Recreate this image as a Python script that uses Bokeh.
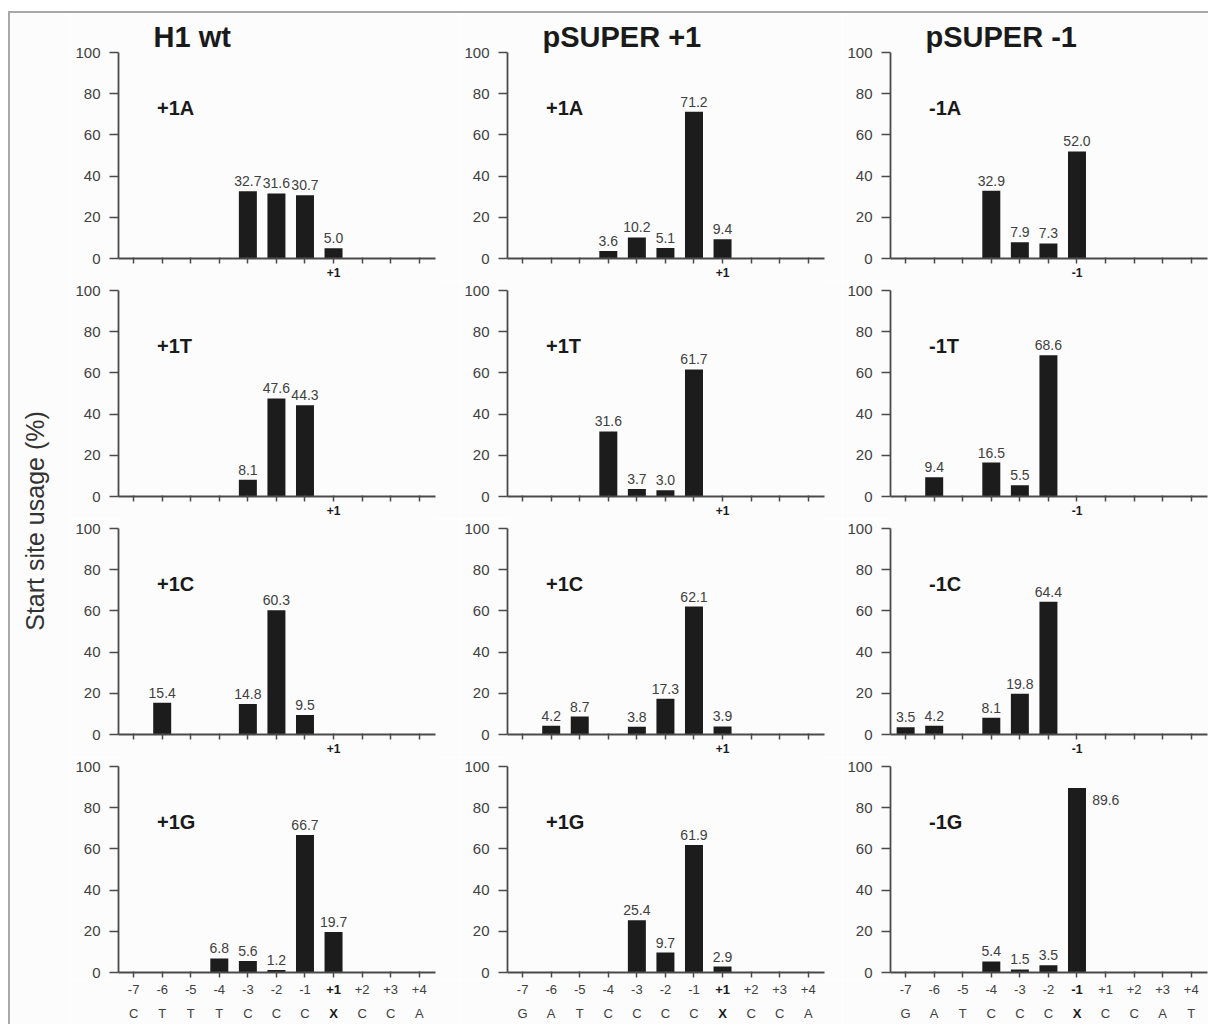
from bokeh.plotting import figure
from bokeh.layouts import row, column
from bokeh.models import (Range1d, FixedTicker, Label, LabelSet, ColumnDataSource)
from bokeh.core.properties import value
from bokeh.embed import file_html
from bokeh.resources import INLINE

# ---------------- data ----------------
positions = ["-7", "-6", "-5", "-4", "-3", "-2", "-1", "+1", "+2", "+3", "+4"]
seq_h1 = ["C", "T", "T", "T", "C", "C", "C", "X", "C", "C", "A"]
seq_plus = ["G", "A", "T", "C", "C", "C", "C", "X", "C", "C", "A"]
seq_minus = ["G", "A", "T", "C", "C", "C", "X", "C", "C", "A", "T"]

col_titles = ["H1 wt", "pSUPER +1", "pSUPER -1"]
start_sites = ["+1", "+1", "-1"]
names_plus = ["+1A", "+1T", "+1C", "+1G"]
names_minus = ["-1A", "-1T", "-1C", "-1G"]

h1_A_pos = ["-3", "-2", "-1", "+1"]
h1_A_val = [32.7, 31.6, 30.7, 5.0]
h1_T_pos = ["-3", "-2", "-1"]
h1_T_val = [8.1, 47.6, 44.3]
h1_C_pos = ["-6", "-3", "-2", "-1"]
h1_C_val = [15.4, 14.8, 60.3, 9.5]
h1_G_pos = ["-4", "-3", "-2", "-1", "+1"]
h1_G_val = [6.8, 5.6, 1.2, 66.7, 19.7]

p1_A_pos = ["-4", "-3", "-2", "-1", "+1"]
p1_A_val = [3.6, 10.2, 5.1, 71.2, 9.4]
p1_T_pos = ["-4", "-3", "-2", "-1"]
p1_T_val = [31.6, 3.7, 3.0, 61.7]
p1_C_pos = ["-6", "-5", "-3", "-2", "-1", "+1"]
p1_C_val = [4.2, 8.7, 3.8, 17.3, 62.1, 3.9]
p1_G_pos = ["-3", "-2", "-1", "+1"]
p1_G_val = [25.4, 9.7, 61.9, 2.9]

m1_A_pos = ["-4", "-3", "-2", "-1"]
m1_A_val = [32.9, 7.9, 7.3, 52.0]
m1_T_pos = ["-6", "-4", "-3", "-2"]
m1_T_val = [9.4, 16.5, 5.5, 68.6]
m1_C_pos = ["-7", "-6", "-4", "-3", "-2"]
m1_C_val = [3.5, 4.2, 8.1, 19.8, 64.4]
m1_G_pos = ["-4", "-3", "-2", "-1"]
m1_G_val = [5.4, 1.5, 3.5, 89.6]

panels = [
    [(h1_A_pos, h1_A_val), (p1_A_pos, p1_A_val), (m1_A_pos, m1_A_val)],
    [(h1_T_pos, h1_T_val), (p1_T_pos, p1_T_val), (m1_T_pos, m1_T_val)],
    [(h1_C_pos, h1_C_val), (p1_C_pos, p1_C_val), (m1_C_pos, m1_C_val)],
    [(h1_G_pos, h1_G_val), (p1_G_pos, p1_G_val), (m1_G_pos, m1_G_val)],
]
sequences = [seq_h1, seq_plus, seq_minus]

# ---------------- style / layout ----------------
FONT = "Liberation Sans"
BG = "#fcfcfc"
AXIS_COLOR = "#4a4a4a"
TEXT_COLOR = "#404040"
DARK = "#1a1a1a"
BAR_COLOR = "#1c1c1c"

FRAME_W = 317
SPAN = 206          # pixels for 0..100
PAD = 9             # pixels above 100 inside frame (rows 2-4)
LEFT_B = [48, 48, 48]
RIGHT_B = [24, 18, 1]
TOP_B = [39, 0, 0, 0]
BOTTOM_B = [23, 23, 23, 8]
STRIP_H = 44
X_RANGE = (-0.53, 10.57)


def make_panel(r, c):
    pos, vals = panels[r][c]
    pad = 0 if r == 0 else PAD
    frame_h = SPAN + pad
    kw = {"title": col_titles[c]} if r == 0 else {}
    p = figure(width=LEFT_B[c] + FRAME_W + RIGHT_B[c],
               height=TOP_B[r] + frame_h + BOTTOM_B[r],
               x_range=Range1d(*X_RANGE),
               y_range=Range1d(0, 100 + 100.0 * pad / SPAN),
               output_backend="svg", toolbar_location=None,
               min_border_left=LEFT_B[c], min_border_right=RIGHT_B[c],
               min_border_top=TOP_B[r], min_border_bottom=BOTTOM_B[r], **kw)
    p.background_fill_color = BG
    p.border_fill_color = BG
    p.outline_line_color = None
    p.xgrid.visible = False
    p.ygrid.visible = False
    if r == 0:
        p.title.align = "left"
        p.title.offset = 35
        p.title.standoff = 0
        p.title.text_font = FONT
        p.title.text_font_size = "29px"
        p.title.text_font_style = "bold"
        p.title.text_color = DARK

    # y axis
    ya = p.yaxis[0]
    ya.ticker = FixedTicker(ticks=[0, 20, 40, 60, 80, 100])
    ya.bounds = (0, 100)
    ya.minor_tick_line_color = None
    ya.major_tick_out = 9
    ya.major_tick_in = 0
    ya.axis_line_color = AXIS_COLOR
    ya.axis_line_width = 1.8
    ya.major_tick_line_color = AXIS_COLOR
    ya.major_tick_line_width = 1.5
    ya.major_label_standoff = 9
    ya.major_label_text_font = FONT
    ya.major_label_text_font_size = "15px"
    ya.major_label_text_color = TEXT_COLOR

    # x axis: the start site is the only labelled (major) tick in rows 1-3;
    # all other positions are drawn as minor ticks styled like major ones.
    bold_idx = positions.index(start_sites[c])
    all_idx = list(range(len(positions)))
    xa = p.xaxis[0]
    if r < 3:
        xa.ticker = FixedTicker(ticks=[bold_idx],
                                minor_ticks=[i for i in all_idx if i != bold_idx])
        xa.major_label_overrides = {bold_idx: start_sites[c]}
    else:
        xa.ticker = FixedTicker(ticks=[], minor_ticks=all_idx)
    xa.major_tick_out = 5
    xa.major_tick_in = 1
    xa.minor_tick_out = 5
    xa.minor_tick_in = 1
    xa.axis_line_color = AXIS_COLOR
    xa.axis_line_width = 1.8
    xa.major_tick_line_color = AXIS_COLOR
    xa.major_tick_line_width = 1.5
    xa.minor_tick_line_color = AXIS_COLOR
    xa.minor_tick_line_width = 1.5
    xa.major_label_text_font = FONT
    xa.major_label_text_font_style = "bold"
    xa.major_label_text_font_size = "12px"
    xa.major_label_text_color = DARK
    xa.major_label_standoff = 4

    # bars
    xs = [positions.index(q) for q in pos]
    src = ColumnDataSource(dict(x=xs, top=vals))
    p.vbar(x="x", top="top", bottom=0, width=0.63, source=src,
           fill_color=BAR_COLOR, line_color=None)

    # value labels
    small = ColumnDataSource(dict(
        x=[x for x, v in zip(xs, vals) if v < 85],
        y=[v for v in vals if v < 85],
        t=[f"{v:.1f}" for v in vals if v < 85]))
    p.add_layout(LabelSet(x="x", y="y", text="t", source=small, y_offset=5,
                          text_align="center", text_baseline="alphabetic",
                          text_font=value(FONT), text_font_size=value("14px"),
                          text_color=value(TEXT_COLOR)))
    for x, v in zip(xs, vals):
        if v >= 85:
            p.add_layout(Label(x=x + 0.32, y=v, x_offset=6, y_offset=-7,
                               text=f"{v:.1f}", text_align="left",
                               text_baseline="top", text_font=FONT,
                               text_font_size="14px", text_color=TEXT_COLOR))

    # panel name
    name = (names_minus if c == 2 else names_plus)[r]
    p.add_layout(Label(x=0.82, y=73, text=name, text_align="left",
                       text_baseline="middle", text_font=FONT,
                       text_font_size="20px", text_font_style="bold",
                       text_color=DARK))
    return p


def make_strip(c):
    """Two-line x tick labels (position / nucleotide) under the bottom panels."""
    bold_idx = positions.index(start_sites[c])
    seq = sequences[c]
    n = len(positions)
    idx = list(range(n))
    src = ColumnDataSource(dict(
        x=idx + idx,
        y=[9] * n + [33] * n,
        t=positions + seq,
        style=["bold" if i == bold_idx else "normal" for i in idx] * 2,
        color=[DARK if i == bold_idx else TEXT_COLOR for i in idx] * 2))
    s = figure(width=LEFT_B[c] + FRAME_W + RIGHT_B[c], height=STRIP_H,
               x_range=Range1d(*X_RANGE), y_range=Range1d(STRIP_H, 0),
               output_backend="svg", toolbar_location=None,
               x_axis_location=None, y_axis_location=None,
               min_border_left=LEFT_B[c], min_border_right=RIGHT_B[c],
               min_border_top=0, min_border_bottom=0)
    s.background_fill_color = BG
    s.border_fill_color = BG
    s.outline_line_color = None
    s.xgrid.visible = False
    s.ygrid.visible = False
    s.text(x="x", y="y", text="t", source=src, text_align="center",
           text_baseline="middle", text_font=value(FONT),
           text_font_size=value("13px"), text_font_style="style",
           text_color="color")
    return s


grid_rows = []
for r in range(4):
    grid_rows.append(row(*[make_panel(r, c) for c in range(3)]))
grid_rows.append(row(*[make_strip(c) for c in range(3)]))
grid = column(*grid_rows)

total_h = (sum(TOP_B) + 4 * SPAN + 3 * PAD + sum(BOTTOM_B) + STRIP_H)

yfig = figure(width=60, height=total_h, x_range=Range1d(0, 1), y_range=Range1d(0, 1),
              output_backend="svg", toolbar_location=None,
              x_axis_location=None, y_axis_location="left",
              min_border_left=50, min_border_right=0,
              min_border_top=4, min_border_bottom=0)
yfig.background_fill_color = BG
yfig.border_fill_color = BG
yfig.outline_line_color = None
yfig.xgrid.visible = False
yfig.ygrid.visible = False
yax = yfig.yaxis[0]
yax.ticker = FixedTicker(ticks=[])
yax.axis_line_color = None
yax.major_tick_line_color = None
yax.minor_tick_line_color = None
yax.major_tick_out = 0
yax.major_tick_in = 0
yax.major_label_standoff = 0
yax.axis_label = "Start site usage (%)"
yax.axis_label_text_font = FONT
yax.axis_label_text_font_size = "25px"
yax.axis_label_text_font_style = "normal"
yax.axis_label_text_color = "#333333"
yax.axis_label_standoff = 12

layout = row(yfig, grid,
             styles={"border-top": "2px solid #a8a8a8",
                     "border-left": "2px solid #a8a8a8",
                     "margin-top": "11px", "margin-left": "8px"})

open("out.html", "w").write(file_html(layout, INLINE, "Start site usage"))
